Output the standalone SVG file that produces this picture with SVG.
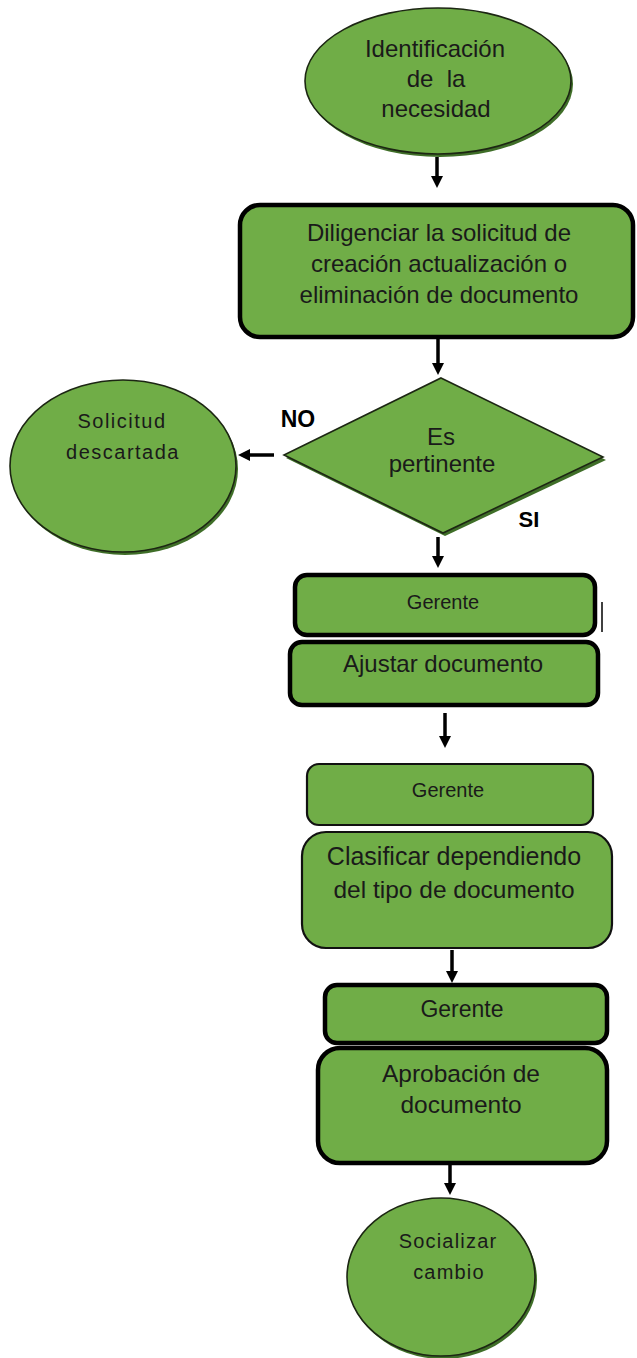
<svg xmlns="http://www.w3.org/2000/svg" width="637" height="1358" viewBox="0 0 637 1358">
<style>
.f{fill:#70ad47}
.sh{fill:#3f6e28}
.thin{fill:#70ad47;stroke:#1c2613;stroke-width:1.6}
.thick{fill:#70ad47;stroke:#000;stroke-width:4.5}
.mid{fill:#70ad47;stroke:#111;stroke-width:2.2}
.t{font-family:"Liberation Sans",Arial,sans-serif;fill:#1a1a1a;text-anchor:middle}
.b{font-family:"Liberation Sans",Arial,sans-serif;fill:#000;font-weight:bold;text-anchor:middle}
.c{stroke:#000;stroke-width:3.5;fill:none}
</style>
<defs>
<marker id="ah" viewBox="0 0 12 12" refX="4" refY="6" markerWidth="12" markerHeight="12" markerUnits="userSpaceOnUse" orient="auto">
<path d="M0,0 L12,6 L0,12 z" fill="#000"/>
</marker>
</defs>
<g id="connectors">
<line class="c" x1="437" y1="157" x2="437" y2="180" marker-end="url(#ah)"/>
<line class="c" x1="438" y1="339" x2="438" y2="367" marker-end="url(#ah)"/>
<line class="c" x1="274" y1="455" x2="246" y2="455" marker-end="url(#ah)"/>
<line class="c" x1="438" y1="537" x2="438" y2="560" marker-end="url(#ah)"/>
<line class="c" x1="445" y1="713" x2="445" y2="740" marker-end="url(#ah)"/>
<line class="c" x1="452" y1="950" x2="452" y2="975" marker-end="url(#ah)"/>
<line class="c" x1="450" y1="1165" x2="450" y2="1187" marker-end="url(#ah)"/>
<line x1="602" y1="602" x2="602" y2="632" stroke="#000" stroke-width="1.5"/>
</g>
<g id="n1">
<ellipse class="sh" cx="440" cy="84" rx="133" ry="73"/>
<ellipse class="thin" cx="438" cy="81" rx="133" ry="73"/>
<text class="t" font-size="24" x="435" y="57">Identificación</text>
<text class="t" font-size="24" x="436" y="87" xml:space="preserve">de  la</text>
<text class="t" font-size="24" x="436" y="117">necesidad</text>
</g>
<g id="n2">
<rect class="thick" x="240" y="205" width="393" height="132" rx="20"/>
<text class="t" font-size="24" x="439" y="241">Diligenciar la solicitud de</text>
<text class="t" font-size="24" x="439" y="272">creación actualización o</text>
<text class="t" font-size="24" x="439" y="303">eliminación de documento</text>
</g>
<g id="n3">
<polygon class="sh" points="443,381 606,460 445,536 286,458"/>
<polygon class="thin" points="441,378 603,457 443,533 284,455"/>
<text class="t" font-size="24" x="441" y="445">Es</text>
<text class="t" font-size="24" x="442" y="472">pertinente</text>
</g>
<g id="n4">
<ellipse class="sh" cx="125" cy="469" rx="113" ry="86"/>
<ellipse class="thin" cx="123" cy="466" rx="113" ry="86"/>
<text class="t" font-size="20" letter-spacing="1.5" x="122" y="428">Solicitud</text>
<text class="t" font-size="20" letter-spacing="1.5" x="123" y="459">descartada</text>
</g>
<g id="lbl-no"><text class="b" font-size="23" x="298" y="427">NO</text></g>
<g id="lbl-si"><text class="b" font-size="22" x="529" y="527">SI</text></g>
<g id="n5">
<rect class="thick" x="295" y="575" width="300" height="60" rx="12"/>
<text class="t" font-size="20" x="443" y="609">Gerente</text>
</g>
<g id="n6">
<rect class="thick" x="290" y="642" width="308" height="63" rx="12"/>
<text class="t" font-size="24" x="443" y="672">Ajustar documento</text>
</g>
<g id="n7">
<rect class="mid" x="307" y="764" width="286" height="61" rx="12"/>
<text class="t" font-size="20" x="448" y="797">Gerente</text>
</g>
<g id="n8">
<rect class="mid" x="302" y="832" width="310" height="116" rx="24"/>
<text class="t" font-size="25" x="454" y="865">Clasificar dependiendo</text>
<text class="t" font-size="24.5" x="454" y="898">del tipo de documento</text>
</g>
<g id="n9">
<rect class="thick" x="325" y="985" width="282" height="58" rx="12"/>
<text class="t" font-size="23" x="462" y="1017">Gerente</text>
</g>
<g id="n10">
<rect class="thick" x="318" y="1048" width="289" height="115" rx="22"/>
<text class="t" font-size="24.5" x="461" y="1082">Aprobación de</text>
<text class="t" font-size="24.5" x="461" y="1113">documento</text>
</g>
<g id="n11">
<ellipse class="sh" cx="443" cy="1280" rx="94" ry="79"/>
<ellipse class="thin" cx="441" cy="1277" rx="94" ry="79"/>
<text class="t" font-size="20" letter-spacing="1.2" x="448" y="1248">Socializar</text>
<text class="t" font-size="20" letter-spacing="1.2" x="449" y="1279">cambio</text>
</g>
</svg>
